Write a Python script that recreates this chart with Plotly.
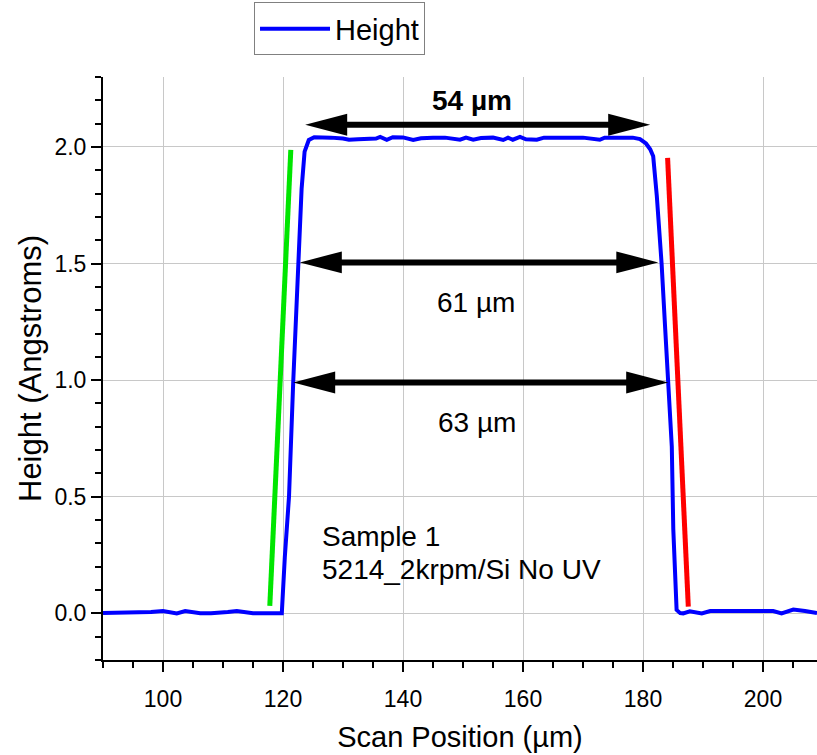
import plotly.graph_objects as go

# ---------------- data ----------------
scan_um = [90, 92, 94, 96, 98, 100, 101.2, 102.3, 103.7, 105, 106.2, 108, 109.5, 110.8,
           112.3, 113.6, 115, 117, 119, 119.8, 120.3, 121.0, 121.7, 122.5, 123.1, 123.6,
           124.3, 125.2, 126.5, 128, 130, 131, 132.5, 134, 135.5, 136.2, 137.3, 138.3,
           140, 141.7, 143, 145, 147, 149.5, 150.5, 151.7, 153, 155, 156.7, 157.5, 158.3,
           159.5, 160.5, 162.3, 163.5, 165, 168, 170, 172.8, 173.6, 176, 178.3, 179.5,
           180.5, 181.2, 181.7, 182.3, 182.8, 183.1, 183.7, 184.2, 184.8, 185.05, 185.6,
           186.2, 186.7, 187.8, 189.8, 191.2, 195, 198, 201.7, 203.1, 205.05, 207, 208.4, 209]
height_A = [0.002, 0.002, 0.002, 0.002, 0.006, 0.010, 0.006, 0.000, 0.010, 0.005, 0.001,
            0.001, 0.002, 0.006, 0.010, 0.004, 0.001, 0.001, 0.001, 0.001, 0.24, 0.50,
            0.99, 1.50, 1.82, 1.98, 2.030, 2.042, 2.042, 2.040, 2.036, 2.031, 2.033, 2.034,
            2.036, 2.043, 2.031, 2.042, 2.041, 2.030, 2.037, 2.040, 2.040, 2.031, 2.040,
            2.031, 2.038, 2.040, 2.030, 2.040, 2.031, 2.043, 2.033, 2.031, 2.040, 2.040,
            2.040, 2.040, 2.031, 2.040, 2.040, 2.040, 2.034, 2.015, 1.99, 1.96, 1.79, 1.64,
            1.50, 1.22, 0.99, 0.715, 0.36, 0.015, 0.001, 0.000, 0.009, 0.000, 0.010, 0.010,
            0.010, 0.010, 0.000, 0.016, 0.010, 0.006, 0.001]

# slope guide lines
green_x = [117.8, 121.3]
green_y = [0.032, 1.987]
red_x = [184.1, 187.55]
red_y = [1.953, 0.029]

# double-headed width arrows
arrow_y = [2.095, 1.505, 0.99]
arrow_left = [123.7, 122.8, 121.7]
arrow_right = [181.2, 182.55, 184.2]

# labels
label_text = ["<b>54 µm</b>", "61 µm", "63 µm"]
label_x = [151.5, 152.1, 152.4]
label_y = [2.20, 1.333, 0.819]

sample_lines = ["Sample 1", "5214_2krpm/Si No UV"]
sample_x = 126.2
sample_y = [0.329, 0.186]

x_major_ticks = [100, 120, 140, 160, 180, 200]
y_major_ticks = [0.0, 0.5, 1.0, 1.5, 2.0]

FONT = "Liberation Sans, Arial, sans-serif"

fig = go.Figure()
fig.add_trace(go.Scatter(x=scan_um, y=height_A, mode="lines", name="Height",
                         line=dict(color="#0000FF", width=4)))
fig.add_trace(go.Scatter(x=green_x, y=green_y, mode="lines", showlegend=False,
                         line=dict(color="#00E600", width=5)))
fig.add_trace(go.Scatter(x=red_x, y=red_y, mode="lines", showlegend=False,
                         line=dict(color="#FF0000", width=5)))

# arrows: shaft + two triangular heads
head_len = 7.0      # in x units
head_half = 0.047   # in y units
shapes = []
for y, xl, xr in zip(arrow_y, arrow_left, arrow_right):
    shapes.append(dict(type="line", xref="x", yref="y", x0=xl + head_len * 0.5,
                       x1=xr - head_len * 0.5, y0=y, y1=y,
                       line=dict(color="black", width=6)))
    shapes.append(dict(type="path", xref="x", yref="y",
                       path=f"M{xl},{y} L{xl + head_len},{y + head_half} L{xl + head_len},{y - head_half} Z",
                       fillcolor="black", line=dict(color="black", width=0)))
    shapes.append(dict(type="path", xref="x", yref="y",
                       path=f"M{xr},{y} L{xr - head_len},{y + head_half} L{xr - head_len},{y - head_half} Z",
                       fillcolor="black", line=dict(color="black", width=0)))

annotations = []
for t, x, y in zip(label_text, label_x, label_y):
    annotations.append(dict(text=t, x=x, y=y, xref="x", yref="y", showarrow=False,
                            font=dict(size=28, family=FONT, color="black")))
for t, y in zip(sample_lines, sample_y):
    annotations.append(dict(text=t, x=sample_x, y=y, xref="x", yref="y", showarrow=False,
                            xanchor="left", font=dict(size=28, family=FONT, color="black")))

axis_common = dict(showline=True, linecolor="black", linewidth=2, tickcolor="black",
                   tickwidth=2, zeroline=False, mirror=False, automargin=False)

fig.update_layout(
    width=817, height=755,
    margin=dict(l=103, r=0, t=77, b=95, autoexpand=False),
    plot_bgcolor="white", paper_bgcolor="white",
    font=dict(family=FONT, color="black"),
    shapes=shapes,
    annotations=annotations,
    showlegend=True,
    legend=dict(x=0.2115, y=1.128, xanchor="left", yanchor="top",
                bordercolor="#808080", borderwidth=1, bgcolor="white",
                font=dict(size=29, family=FONT, color="black"), itemwidth=70),
    xaxis=dict(range=[90, 209], tickvals=x_major_ticks, ticks="outside", ticklen=10,
               showgrid=True, gridcolor="#c8c8c8", gridwidth=1,
               tickfont=dict(size=23), ticklabelstandoff=7,
               title=dict(text="Scan Position (µm)", font=dict(size=29), standoff=16),
               minor=dict(dtick=5, tick0=0, ticks="outside", ticklen=6, tickwidth=2,
                          tickcolor="black", showgrid=False),
               **axis_common),
    xaxis2=dict(range=[90, 209], overlaying="x", side="top", anchor="y",
                tickvals=x_major_ticks, ticks="inside", ticklen=10, showticklabels=False,
                showgrid=False,
                minor=dict(dtick=5, tick0=0, ticks="inside", ticklen=6, tickwidth=2,
                           tickcolor="black", showgrid=False),
                **axis_common),
    yaxis=dict(range=[-0.2, 2.3], tickvals=y_major_ticks, tickformat=".1f",
               ticks="outside", ticklen=10,
               showgrid=True, gridcolor="#c8c8c8", gridwidth=1,
               tickfont=dict(size=23),
               title=dict(text="Height (Angstroms)", font=dict(size=31), standoff=4),
               minor=dict(dtick=0.1, tick0=0, ticks="outside", ticklen=6, tickwidth=2,
                          tickcolor="black", showgrid=False),
               **axis_common),
    yaxis2=dict(range=[-0.2, 2.3], overlaying="y", side="right", anchor="x",
                tickvals=y_major_ticks, ticks="inside", ticklen=5, tickwidth=2,
                tickcolor="black", showline=False, showticklabels=False, showgrid=False,
                zeroline=False, automargin=False),
)

fig.write_html("out.html",
               config={"displayModeBar": False},
               post_script="document.body.style.margin='0px';"
                           "document.body.style.overflow='hidden';")
